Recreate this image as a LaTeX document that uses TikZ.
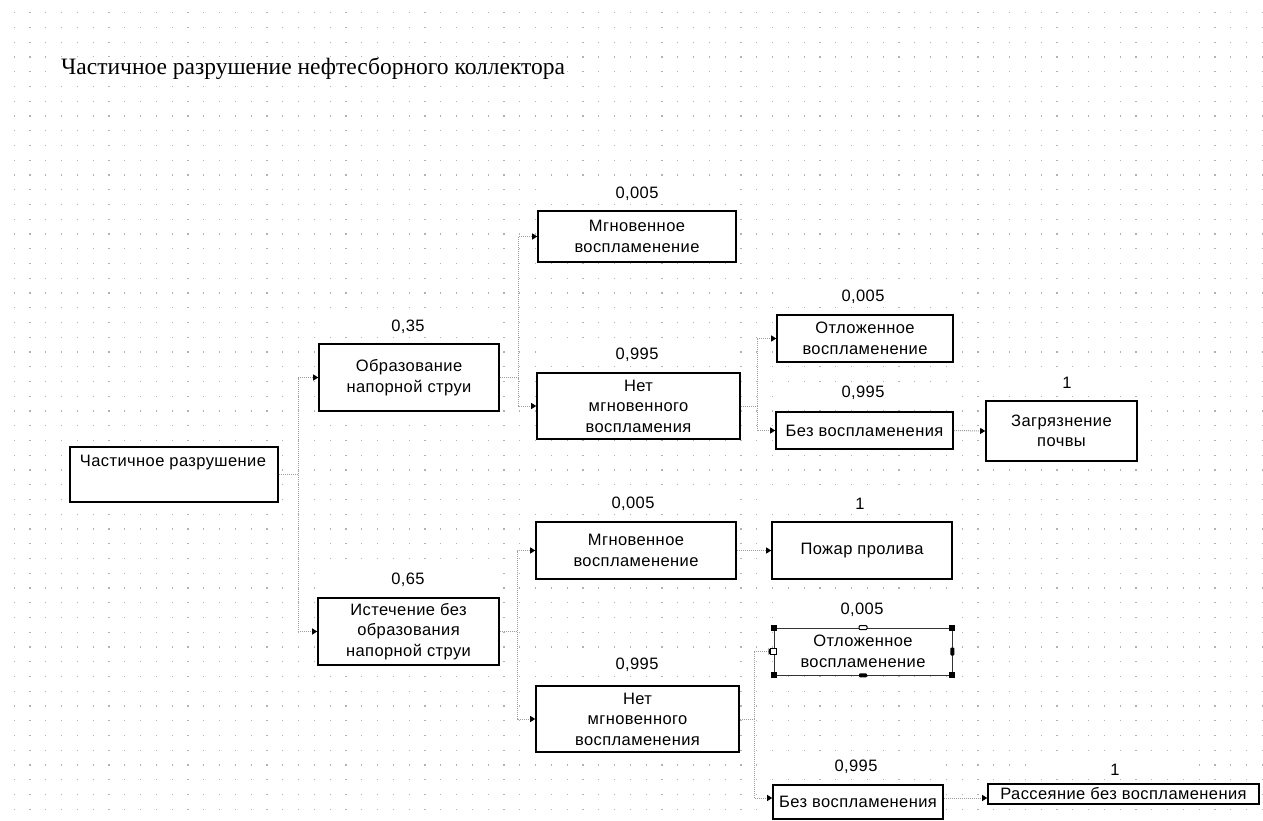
\documentclass[tikz,border=0pt]{standalone}
\usepackage{fontspec}
\setmainfont{Liberation Sans}[LetterSpace=2.5]
\newfontfamily\titlefont{Liberation Serif}
\usetikzlibrary{arrows.meta,calc}
\begin{document}
\begin{tikzpicture}[x=1pt,y=-1pt,
  box/.style={draw=black, line width=1.6pt, fill=white, inner sep=0pt, align=center,
    font=\fontsize{16.5}{20.5}\selectfont},
  selbox/.style={box, line width=0.8pt, draw=black!80},
  prob/.style={fill=white, inner sep=0pt, minimum height=17pt,
    font=\fontsize{16.5}{20}\selectfont},
  btext/.style={inner sep=0pt, font=\fontsize{16.5}{20}\selectfont},
  conn/.style={draw=gray!75, line width=1pt, dash pattern=on 1pt off 1pt,
    -{Triangle[length=5pt,width=6pt,color=black]}},
  griddot/.style={fill=gray!60},
  handle/.style={fill=black}
]
\useasboundingbox (0,0) rectangle (1263,821);
\fill[white] (0,0) rectangle (1263,821);
% dotted grid
\foreach \i in {0,...,79}{
  \foreach \j in {0,...,54}{
    \fill[griddot] ({13.5+\i*15.8},{12.2+\j*14.75}) rectangle +(1.2,1.2);
  }
}
% title
\node[font=\titlefont\fontsize{23.5}{25}\selectfont, fill=white, inner sep=1pt, anchor=base west]
  (title) at (60,75) {Частичное разрушение нефтесборного коллектора};

% boxes
\node[box, minimum width=208pt, minimum height=55pt] (A) at (174,474.5) {};
\node[btext] (At) at (173,463) {Частичное разрушение};

\node[box, minimum width=180pt, minimum height=67pt] (B) at (409,377.5) {Образование\\напорной струи};
\node[box, minimum width=181pt, minimum height=67pt] (G) at (408.5,631.5) {Истечение без\\образования\\напорной струи};

\node[box, minimum width=198pt, minimum height=51pt] (C1) at (637,236.5) {Мгновенное\\воспламенение};
\node[box, minimum width=203pt, minimum height=66pt] (C2) at (638.5,406) {Нет\\мгновенного\\воспламения};
\node[box, minimum width=200pt, minimum height=57pt] (C3) at (636,550.5) {Мгновенное\\воспламенение};
\node[box, minimum width=203pt, minimum height=66pt] (H) at (637.5,719) {Нет\\мгновенного\\воспламенения};

\node[box, minimum width=176pt, minimum height=47pt] (D1) at (865,338.5) {Отложенное\\воспламенение};
\node[box, minimum width=177pt, minimum height=37pt] (D2) at (864.5,430.5) {Без воспламенения};
\node[box, minimum width=151pt, minimum height=60pt] (E) at (1061.5,431) {Загрязнение\\почвы};
\node[box, minimum width=180pt, minimum height=57pt] (F) at (862,550.5) {Пожар пролива};
\node[selbox, minimum width=178pt, minimum height=47pt] (I) at (863,651.5) {Отложенное\\воспламенение};
\node[box, minimum width=170pt, minimum height=34pt] (J) at (858,802) {Без воспламенения};
\node[box, minimum width=271pt, minimum height=20pt] (K) at (1123.5,794) {Рассеяние без воспламенения};

% probability labels
\node[prob, minimum width=180pt] (pB) at (408,327) {0,35};
\node[prob, minimum width=180pt] (pG) at (408,580) {0,65};
\node[prob, minimum width=198pt] (pC1) at (637,194) {0,005};
\node[prob, minimum width=200pt] (pC2) at (637,355) {0,995};
\node[prob, minimum width=200pt] (pC3) at (633,504) {0,005};
\node[prob, minimum width=200pt] (pH) at (637,665) {0,995};
\node[prob, minimum width=176pt] (pD1) at (863,297) {0,005};
\node[prob, minimum width=176pt] (pD2) at (863,393) {0,995};
\node[prob, minimum width=150pt] (pE) at (1067,383) {1};
\node[prob, minimum width=178pt] (pF) at (860,504) {1};
\node[prob, minimum width=176pt] (pI) at (862,610) {0,005};
\node[prob, minimum width=170pt] (pJ) at (856,767) {0,995};
\node[prob, minimum width=150pt] (pK) at (1115,770) {1};

% bus coordinates
\coordinate (bA) at (298,0);
\coordinate (bB) at (518,0);
\coordinate (bG) at (517,0);
\coordinate (bC2) at (757,0);
\coordinate (bH) at (754,0);
\coordinate (Jin) at ($(J.west)+(0,-4)$);

% connectors
\draw[conn] (A.east) -- (A.east -| bA) |- (B.west);
\draw[conn] (A.east) -- (A.east -| bA) |- (G.west);
\draw[conn] (B.east) -- (B.east -| bB) |- (C1.west);
\draw[conn] (B.east) -- (B.east -| bB) |- (C2.west);
\draw[conn] (G.east) -- (G.east -| bG) |- (C3.west);
\draw[conn] (G.east) -- (G.east -| bG) |- (H.west);
\draw[conn] (C2.east) -- (C2.east -| bC2) |- (D1.west);
\draw[conn] (C2.east) -- (C2.east -| bC2) |- (D2.west);
\draw[conn] (D2.east) -- (E.west);
\draw[conn] (C3.east) -- (F.west);
\draw[conn] (H.east) -- (H.east -| bH) |- (I.west);
\draw[conn] (H.east) -- (H.east -| bH) |- (Jin);
\draw[conn] (J.east |- Jin) -- (K.west |- Jin);

% selection handles on I
\fill[handle] ($(I.north west)+(-3,-3)$) rectangle +(6,6);
\fill[handle] ($(I.north east)+(-3,-3)$) rectangle +(6,6);
\fill[handle] ($(I.south west)+(-3,-3)$) rectangle +(6,6);
\fill[handle] ($(I.south east)+(-3,-3)$) rectangle +(6,6);
\draw[black, line width=1pt, fill=white, rounded corners=1pt] ($(I.north)+(-4,-2)$) rectangle +(8,4);
\fill[black, rounded corners=1pt] ($(I.south)+(-4,-2)$) rectangle +(8,4);
\fill[black, rounded corners=1pt] ($(I.east)+(-2,-4)$) rectangle +(4,8);
\draw[black, line width=1pt, fill=white] ($(I.west)+(-3,-3)$) rectangle +(6,6);
\end{tikzpicture}
\end{document}
